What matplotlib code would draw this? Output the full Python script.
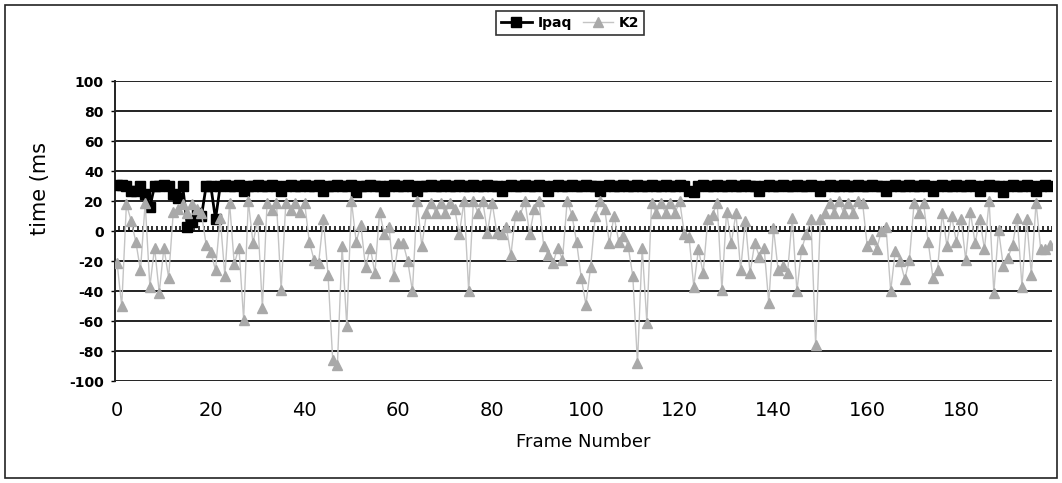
import numpy as np
import matplotlib
matplotlib.use("Agg")
import matplotlib.pyplot as plt
from matplotlib.patches import Rectangle

plt.rcParams['font.family'] = ['DejaVu Sans']

# frame numbers 0..199
frames = np.arange(200)

ipaq = [31, 31, 30, 27, 27, 30, 25, 16, 30, 30, 31, 30, 25, 22, 30, 3, 6, 12, 10, 30,
        30, 8, 30, 31, 30, 30, 31, 27, 30, 30, 31, 30, 30, 31, 30, 27, 30, 31, 30, 30,
        31, 30, 30, 31, 27, 30, 30, 31, 30, 30, 31, 26, 30, 30, 31, 30, 30, 27, 30, 31,
        30, 30, 31, 30, 27, 30, 30, 31, 30, 30, 31, 30, 30, 31, 30, 30, 31, 30, 30, 31,
        30, 30, 27, 30, 31, 30, 30, 31, 30, 30, 31, 30, 27, 30, 31, 30, 30, 31, 30, 30,
        31, 30, 30, 27, 30, 31, 30, 30, 31, 30, 30, 31, 30, 30, 31, 30, 30, 31, 30, 30,
        31, 30, 27, 26, 30, 31, 30, 30, 31, 30, 30, 31, 30, 30, 31, 30, 30, 27, 30, 31,
        30, 30, 31, 30, 30, 31, 30, 30, 31, 30, 27, 30, 31, 30, 30, 31, 30, 30, 31, 30,
        30, 31, 30, 30, 27, 30, 31, 30, 30, 31, 30, 30, 31, 30, 27, 30, 31, 30, 30, 31,
        30, 30, 31, 30, 27, 30, 31, 30, 30, 26, 30, 31, 30, 30, 31, 30, 27, 30, 31, 30]

k2 = [-21, -50, 18, 7, -7, -26, 19, -37, -11, -41, -11, -31, 13, 15, 18, 12, 18, 15, 12, -9,
      -14, -26, 9, -30, 19, -22, -11, -59, 20, -8, 8, -51, 19, 14, 19, -39, 19, 14, 19, 13,
      19, -7, -19, -21, 8, -29, -86, -89, -10, -63, 20, -7, 4, -24, -11, -28, 13, -2, 3, -30,
      -8, -8, -20, -40, 20, -10, 12, 19, 12, 19, 12, 19, 15, -2, 20, -40, 20, 12, 20, -1,
      19, -1, -2, 3, -16, 11, 11, 20, -2, 15, 20, -10, -16, -21, -11, -19, 20, 11, -7, -31,
      -49, -24, 10, 20, 15, -8, 10, -7, -3, -10, -30, -88, -11, -61, 19, 12, 19, 12, 19, 12,
      20, -2, -4, -37, -12, -28, 8, 11, 19, -39, 13, -8, 12, -26, 7, -28, -8, -17, -11, -48,
      2, -26, -23, -28, 9, -40, -12, -2, 8, -76, 8, 12, 19, 12, 20, 12, 19, 12, 20, 19,
      -10, -5, -12, 0, 3, -40, -13, -20, -32, -19, 19, 12, 19, -7, -31, -26, 12, -10, 10, -7,
      8, -19, 13, -8, 8, -12, 20, -41, 1, -23, -18, -9, 9, -37, 8, -29, 19, -12, -12, -9]

y_ticks = [-100, -80, -60, -40, -20, 0, 20, 40, 60, 80, 100]
x_ticks = [0, 20, 40, 60, 80, 100, 120, 140, 160, 180]

fig = plt.figure(figsize=(10.62, 4.83), dpi=100)
ax = fig.add_axes([0.108, 0.211, 0.883, 0.621])

for yv in y_ticks:
    ax.axhline(yv, color='#222222', lw=1.4, zorder=1)

# category axis at zero with a tick between every frame
ax.axhline(0, color='#111111', lw=1.4, zorder=2)
ax.vlines(np.arange(-0.5, 200, 1), 0, 3.2, color='#111111', lw=1.2, zorder=2)

ax.plot(frames, ipaq, color='black', lw=2.0, marker='s', ms=7,
        mfc='black', mec='black', label='Ipaq', zorder=3)
ax.plot(frames, k2, color='#c4c4c4', lw=1.0, marker='^', ms=6.5,
        mfc='#a9a9a9', mec='#a9a9a9', label='K2', zorder=4)

ax.set_xlim(-0.5, 199.5)
ax.set_ylim(-100, 100)
ax.set_yticks(y_ticks)
ax.set_yticklabels([str(v) for v in y_ticks], fontsize=10, fontweight='bold')
ax.set_xticks(x_ticks)
ax.set_xticklabels([str(v) for v in x_ticks], fontsize=14)
ax.tick_params(axis='x', length=0, pad=14)
ax.tick_params(axis='y', length=3, width=1, pad=5)

for s in ['top', 'right', 'bottom']:
    ax.spines[s].set_visible(False)
ax.spines['left'].set_color('#222222')
ax.spines['left'].set_linewidth(1.4)

ax.set_xlabel('Frame Number', fontsize=13, labelpad=10)
fig.text(0.038, 0.61, 'time (ms', rotation=90, fontsize=15, ha='center', va='center')

leg = fig.legend(loc='center', bbox_to_anchor=(0.537, 0.952), ncol=2, fontsize=10,
                 frameon=True, fancybox=False, edgecolor='black', handlelength=2.2,
                 columnspacing=0.8, handletextpad=0.4, borderpad=0.35)
leg.get_frame().set_linewidth(1.2)
for t in leg.get_texts():
    t.set_fontweight('bold')

fig.patches.append(Rectangle((0.005, 0.01), 0.99, 0.98, transform=fig.transFigure,
                             fill=False, edgecolor='#222222', lw=1.2))

fig.savefig('out.png', dpi=100)
